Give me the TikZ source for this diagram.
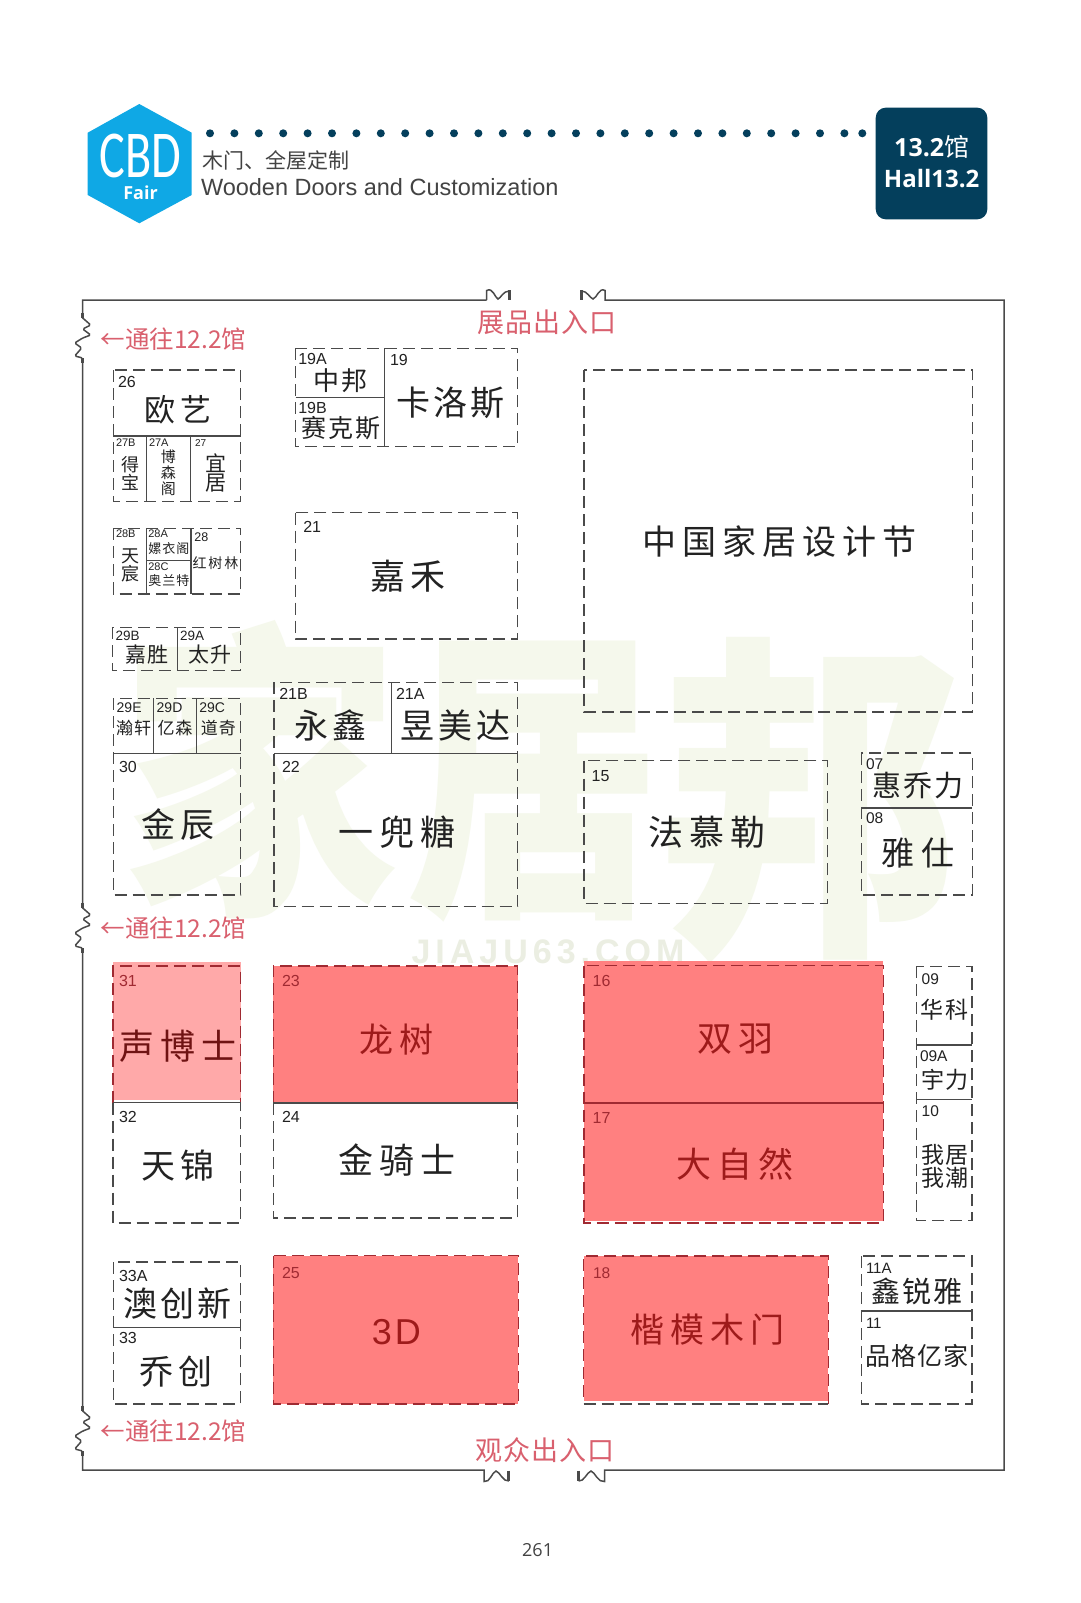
\documentclass[tikz,border=0pt]{standalone}
\usepackage{fontspec}
\setmainfont{Liberation Sans}
\newfontfamily\cjk{Noto Sans CJK SC}
\newfontfamily\osans{Open Sans}
\newfontfamily\carl{Carlito}
\definecolor{ink}{HTML}{222222}
\definecolor{lineg}{HTML}{4A4A4A}
\definecolor{navy}{HTML}{043F5C}
\definecolor{cbd}{HTML}{0FA8E5}
\definecolor{redfill}{HTML}{FF8080}
\definecolor{pinkfill}{HTML}{FFA9A9}
\definecolor{redline}{HTML}{A02A32}
\definecolor{redtext}{HTML}{9E1B1B}
\definecolor{exitred}{HTML}{D9606E}
\definecolor{wm}{HTML}{F5F8EC}
\tikzset{
  stall/.style={draw=lineg,line width=1.25pt,dash pattern=on 12pt off 6pt},
  redstall/.style={draw=redline,line width=1.25pt,dash pattern=on 12pt off 6pt},
  divider/.style={draw=lineg,line width=1.25pt},
  wall/.style={draw=lineg,line width=1.5pt},
  numlbl/.style={anchor=west,inner sep=0pt,outer sep=0pt},
  namelbl/.style={anchor=center,inner sep=0pt,outer sep=0pt},
}
\newcount\tcn
\makeatletter
\newcommand\spc[2]{\def\@gp{}\@tfor\@ch:=#2\do{\@gp\@ch\def\@gp{\hspace{#1pt}}}}
\makeatother
% \NUM[colour]{x}{y}{size}{text}
\newcommand\NUM[5][ink]{\global\advance\tcn by 1\relax
  \node[numlbl,name=t\the\tcn,text=#1] at (#2,#3) {\fontsize{#4}{#4}\selectfont #5};}
% \NAM[colour]{x}{y}{size}{gap}{text}
\newcommand\NAM[6][ink]{\global\advance\tcn by 1\relax
  \node[namelbl,name=t\the\tcn,text=#1] at (#2,#3) {\fontsize{#4}{#4}\selectfont\cjk\spc{#5}{#6}};}
\newcommand\EXIT[1]{\global\advance\tcn by 1\relax
  \node[numlbl,name=t\the\tcn,text=exitred] at (100.5,#1) {\fontsize{24.5}{24.5}\selectfont\cjk ←通往12.2馆};}
\def\zz{[rounded corners=1.5pt] -- ++(8,7) -- ++(-8,4) -- ++(8,6) -- ++(-8,3) -- ++(-8,5) -- ++(7,5) -- ++(-7,8) -- ++(8,2) [sharp corners]}
\begin{document}
\begin{tikzpicture}[x=1pt,y=-1pt]
\useasboundingbox (0,0) rectangle (1080,1603);
\fill[white] (0,0) rectangle (1080,1603);
% watermark
\node[namelbl,name=wm1,text=wm] at (260,770) {\scalebox{0.90}[1.0]{\fontsize{310}{310}\selectfont\cjk\bfseries 家}};
\node[namelbl,name=wm2,text=wm] at (534,782) {\scalebox{0.82}[1.0]{\fontsize{310}{310}\selectfont\cjk\bfseries 居}};
\node[namelbl,name=wm3,text=wm] at (810,800) {\scalebox{0.98}[1.1]{\fontsize{310}{310}\selectfont\cjk\bfseries 邦}};
\node[namelbl,name=wm4,text=wm!96!black] at (548,952) {\fontsize{34}{34}\selectfont\bfseries\spc{5}{JIAJU63.COM}};
% header
\fill[cbd] (139.3,104) -- (191.7,132.7) -- (191.7,195) -- (139.3,223.3) -- (87.7,195) -- (87.7,132.7) -- cycle;
\node[namelbl,name=cbdt,text=white] at (140.5,156) {\scalebox{0.72}[1]{\fontsize{67}{67}\selectfont\carl CBD}};
\node[namelbl,name=fair,text=white] at (140.5,192.5) {\fontsize{18}{18}\selectfont\osans\bfseries Fair};
\foreach \k in {0,...,26} \fill[navy] ({210+24.4*\k},133.3) circle (4);
\fill[navy] (862.3,133.3) circle (4);
\NAM[ink!85!white]{276}{160}{21}{0}{木门、全屋定制}
\node[numlbl,name=hd2,text=ink!85!white] at (201,187) {\fontsize{23.5}{23.5}\selectfont Wooden Doors and Customization};
\fill[navy,rounded corners=10pt] (875.7,107.7) rectangle (987.3,219.3);
\node[namelbl,name=bd1,text=white] at (931.7,147) {\fontsize{25}{25}\selectfont\osans\bfseries 13.2\cjk\mdseries 馆};
\node[namelbl,name=bd2,text=white] at (931.7,178.5) {\fontsize{24}{24}\selectfont\osans\bfseries Hall13.2};
% hall wall
\draw[wall] (486.7,300) -- (82.7,300) -- (82.7,318) \zz -- (82.7,908) \zz -- (82.7,1411) \zz -- (82.7,1470) -- (484,1470) -- (484,1481.5)
  .. controls (490,1483) and (492,1472) .. (496,1471) .. controls (500,1472) and (503,1482) .. (508.9,1481);
\draw[wall] (578.5,1481) .. controls (584,1482) and (587,1472) .. (591,1471) .. controls (595,1472) and (598,1483) .. (604.6,1481.5)
  -- (604.6,1470) -- (1004.2,1470) -- (1004.2,300) -- (605,300) -- (605,290.5)
  .. controls (599,287) and (597,298) .. (593,299) .. controls (590,298) and (587,291) .. (581.7,291);
\draw[wall] (486.7,300) -- (486.7,290.5) .. controls (493,287) and (495,298) .. (498,299) .. controls (501,298) and (503,291) .. (509.3,291);
\foreach \p in {509.3,581.7} \draw[lineg,line width=3pt] (\p,290) -- (\p,300);
\foreach \p in {508.9,578.5} \draw[lineg,line width=3pt] (\p,1470.5) -- (\p,1481);
\foreach \p in {318,908,1411} {\draw[lineg,line width=3pt] (82.7,\p-5) -- (82.7,\p); \draw[lineg,line width=3pt] (82.7,\p+40) -- (82.7,\p+45);}
\EXIT{339.3}\EXIT{928}\EXIT{1431}
\NAM[exitred]{546.5}{322.3}{27}{1}{展品出入口}
\NAM[exitred]{544.5}{1450}{27}{1}{观众出入口}
\node[namelbl,name=pg,text=ink!85!white] at (537.6,1550) {\fontsize{18}{18}\selectfont\osans 261};
% fills
\fill[pinkfill] (113,962) rectangle (240.7,1100);
\fill[redfill] (273.3,966) rectangle (517.7,1103);
\fill[redfill] (584,961) rectangle (883.3,1221);
\fill[redfill] (273.3,1255.7) rectangle (518.3,1404);
\fill[redfill] (583.5,1256) rectangle (828.4,1401);
% 26 / 27 group
\path[stall] (113.3,370) rectangle (240.7,501.3);
\draw[divider] (113.3,436) -- (240.7,436) (146.7,436) -- (146.7,501.3) (190.7,436) -- (190.7,501.3);
\NUM{118}{381.7}{16}{26}\NAM{178}{410}{31}{5}{欧艺}
\NUM{116}{443}{11}{27B}\NAM{130}{465}{18}{0}{得}\NAM{130}{482}{18}{0}{宝}
\NUM{149}{443}{11}{27A}\NAM{168.3}{457}{15}{0}{博}\NAM{168.3}{473}{15}{0}{森}\NAM{168.3}{489}{15}{0}{阁}
\NUM{195}{443}{10}{27}\NAM{215.7}{463}{21}{0}{宜}\NAM{215.7}{483}{21}{0}{居}
% 28 group
\path[stall] (113.3,528.3) rectangle (240.7,594);
\draw[divider] (146.7,528.3) -- (146.7,594) (191,528.3) -- (191,594) (146.7,560.7) -- (191,560.7);
\NUM{116}{534}{11}{28B}\NAM{130}{556.7}{18}{0}{天}\NAM{130}{574}{18}{0}{宸}
\NUM{148.3}{534}{11}{28A}\NAM{168.8}{548.7}{13}{1}{嫘衣阁}
\NUM{148.3}{567}{11}{28C}\NAM{168.8}{580.7}{13}{1}{奥兰特}
\NUM{194.3}{536.7}{12.5}{28}\NAM{215.5}{562.7}{14}{2}{红树林}
% 29A/B
\path[stall] (112.3,627.3) rectangle (240.7,670.7);
\draw[divider] (177.3,627.3) -- (177.3,670.7);
\NUM{115.7}{636}{13.5}{29B}\NAM{147}{654.3}{21}{1}{嘉胜}
\NUM{180}{636}{13.5}{29A}\NAM{209.7}{654.3}{21}{1}{太升}
% 29C/D/E + 30
\path[stall] (113.3,698.3) rectangle (240.7,895);
\draw[divider] (113.3,753.3) -- (240.7,753.3) (153.7,698.3) -- (153.7,753.3) (196.3,698.3) -- (196.3,753.3);
\NUM{116.7}{707.3}{14}{29E}\NAM{133.7}{728.3}{17}{1}{瀚轩}
\NUM{156.7}{707.3}{14}{29D}\NAM{175}{728.3}{17}{1}{亿森}
\NUM{199.3}{707.3}{14}{29C}\NAM{218.3}{728.3}{17}{1}{道奇}
\NUM{119}{766.7}{16}{30}\NAM{178}{825}{34}{6}{金辰}
% 19 group
\path[stall] (295.7,348.3) rectangle (517.7,446.7);
\draw[divider] (384.3,348.3) -- (384.3,446.7) (295.7,397.3) -- (384.3,397.3);
\NUM{298.3}{359.3}{16}{19A}\NAM{340.8}{380.7}{26}{2}{中邦}
\NUM{298.3}{408.3}{16}{19B}\NAM{340.8}{428}{25}{2}{赛克斯}
\NUM{390}{360}{16}{19}\NAM{450.7}{402.7}{34}{3}{卡洛斯}
% 21
\path[stall] (295.7,512.7) rectangle (517.7,639);
\NUM{303.3}{527.3}{16}{21}\NAM{408}{576}{35}{5}{嘉禾}
% 21A/B + 22
\path[stall] (274,682.3) rectangle (517.7,906.7);
\draw[divider] (274,753.3) -- (517.7,753.3) (391.3,682.3) -- (391.3,753.3);
\NUM{279.3}{694}{16}{21B}\NAM{330.5}{725}{34}{4}{永鑫}
\NUM{396}{694}{16}{21A}\NAM{455.8}{725}{34}{4}{昱美达}
\NUM{282}{766.7}{16}{22}\NAM{396.8}{831.7}{35}{6}{一兜糖}
% big stall
\path[stall] (584,370) rectangle (972.3,712);
\NAM{779.5}{541.8}{34}{6}{中国家居设计节}
% 15
\path[stall] (584,760.7) rectangle (827.7,903.2);
\NUM{591.7}{775.7}{16}{15}\NAM{707}{832.5}{35}{6}{法慕勒}
% 07 / 08
\path[stall] (861.3,753) rectangle (972.3,895);
\draw[divider] (861.3,807.9) -- (972.3,807.9);
\NUM{866}{764}{15.5}{07}\NAM{917.8}{785.4}{29}{2}{惠乔力}
\NUM{866}{818}{15.5}{08}\NAM{917.8}{852.5}{33}{7}{雅仕}
% 16 / 17
\path[redstall] (584,965.7) rectangle (883.3,1222.9);
\draw[draw=redline,line width=1.3pt] (584,1103) -- (883.3,1103);
\NUM[redline]{592.7}{981}{16}{16}\NAM[redtext]{735.7}{1039}{35}{6}{双羽}
\NUM[redline]{592.7}{1117.5}{16}{17}\NAM[redtext]{735}{1164}{35}{6}{大自然}
% 09 / 09A / 10
\path[stall] (916.3,966.4) rectangle (972,1220.4);
\draw[divider] (916.3,1045) -- (972,1045) (916.3,1099.6) -- (972,1099.6);
\NUM{921.7}{979}{15.5}{09}\NAM{944.7}{1010}{23}{2}{华科}
\NUM{920}{1055.7}{15.5}{09A}\NAM{945}{1080}{23}{2}{宇力}
\NUM{921.7}{1111.4}{15.5}{10}\NAM{945}{1155}{23}{2}{我居}\NAM{945}{1177.5}{23}{2}{我潮}
% 31 / 32
\path[redstall] (113,1102.6) -- (113,966) -- (240.7,966) -- (240.7,1102.6);
\path[stall] (113,1102.6) -- (113,1223) -- (240.7,1223) -- (240.7,1102.6);
\draw[divider] (113,1102.6) -- (240.7,1102.6);
\NUM[redline]{119}{981}{16}{31}\NAM[black!30!redtext]{178}{1046.4}{35}{6}{声博士}
\NUM{119}{1116.8}{16}{32}\NAM{178}{1165.8}{34}{6}{天锦}
% 23 / 24
\path[redstall] (273.3,1103) -- (273.3,966) -- (517.7,966) -- (517.7,1103);
\path[stall] (273.3,1103) -- (273.3,1218) -- (517.7,1218) -- (517.7,1103);
\draw[divider] (273.3,1103) -- (517.7,1103);
\NUM[redline]{282}{981}{16}{23}\NAM[redtext]{396.3}{1040}{34}{6}{龙树}
\NUM{282}{1117}{16}{24}\NAM{396.7}{1160}{35}{6}{金骑士}
% 25
\path[redstall] (273.3,1255.7) rectangle (518.3,1404);
\NUM[redline]{282}{1273}{16}{25}
\global\advance\tcn by 1\relax
\node[namelbl,name=t\the\tcn,text=redtext] at (396.3,1332) {\fontsize{36}{36}\selectfont\spc{3}{3D}};
% 33A / 33
\path[stall] (113.3,1262) rectangle (240.7,1404);
\draw[divider] (113.3,1327.3) -- (240.7,1327.3);
\NUM{119}{1276.4}{16}{33A}\NAM{177.5}{1303.6}{34}{3}{澳创新}
\NUM{119}{1338}{16}{33}\NAM{175.8}{1371.7}{34}{5}{乔创}
% 18
\path[redstall] (828.4,1404) -- (828.4,1256) -- (583.5,1256) -- (583.5,1401);
\path[stall] (583.5,1404) -- (828.4,1404);
\NUM[redline]{593}{1273.3}{15.5}{18}\NAM[redtext]{707.3}{1330}{34}{6}{楷模木门}
% 11A / 11
\path[stall] (861.4,1256) rectangle (972,1404);
\draw[divider] (861.4,1311) -- (972,1311);
\NUM{866}{1268.3}{15}{11A}\NAM{917.4}{1291.7}{29}{2}{鑫锐雅}
\NUM{866}{1323}{15}{11}\NAM{917}{1356}{25}{1}{品格亿家}
\end{tikzpicture}
\end{document}
